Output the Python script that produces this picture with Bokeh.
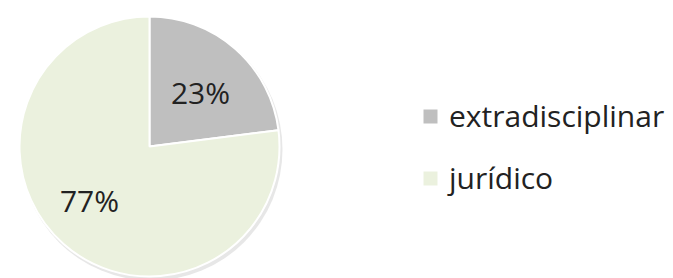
import numpy as np
from bokeh.plotting import figure
from bokeh.models import Range1d, Legend, LegendItem, ColumnDataSource
from bokeh.core.properties import value
from bokeh.embed import file_html
from bokeh.resources import INLINE

categories = ["extradisciplinar", "jurídico"]
percents = [23, 77]
colors = ["#BFBFBF", "#EBF1DE"]
labels = ["23%", "77%"]

W, H = 673, 278
p = figure(width=W, height=H, output_backend="svg", toolbar_location=None,
           x_range=Range1d(0, W), y_range=Range1d(0, H), min_border=0)
p.axis.visible = False
p.grid.visible = False
p.outline_line_color = None

cx, cy, r = 149, 132, 130
frac = np.array(percents) / sum(percents)
ends = np.pi / 2 - 2 * np.pi * np.cumsum(frac)
starts = np.concatenate([[np.pi / 2], ends[:-1]])
# label anchor offsets (pixels from pie centre, baseline)
lab_dx = [51, -60]
lab_dy = [54, -54]
lx = [cx + d for d in lab_dx]
ly = [cy + d for d in lab_dy]

src = ColumnDataSource(dict(cat=categories, start=starts, end=ends, color=colors,
                            lx=lx, ly=ly, lab=labels))

# soft shadow
p.circle(x=cx + 2, y=cy - 3, radius=r + 1, fill_color="#cfcfcf", fill_alpha=0.5, line_color=None)

w = p.wedge(x=cx, y=cy, radius=r, start_angle="start", end_angle="end", direction="clock",
            fill_color="color", line_color="white", line_width=2, source=src)

p.text(x="lx", y="ly", text="lab", source=src, text_align="center", text_baseline="alphabetic",
       text_font=value("Open Sans"), text_font_size="30px", text_color="#222222")

legend = Legend(items=[LegendItem(label=categories[i], renderers=[w], index=i) for i in range(2)],
                location=(420, 80), orientation="vertical",
                label_text_font="Open Sans", label_text_font_size="30px",
                label_text_color="#222222",
                glyph_width=20, glyph_height=20, label_standoff=9,
                label_height=20, spacing=21, padding=0, margin=0,
                border_line_color=None, background_fill_alpha=0)
p.add_layout(legend, "center")

open("out.html", "w").write(file_html(p, INLINE))
